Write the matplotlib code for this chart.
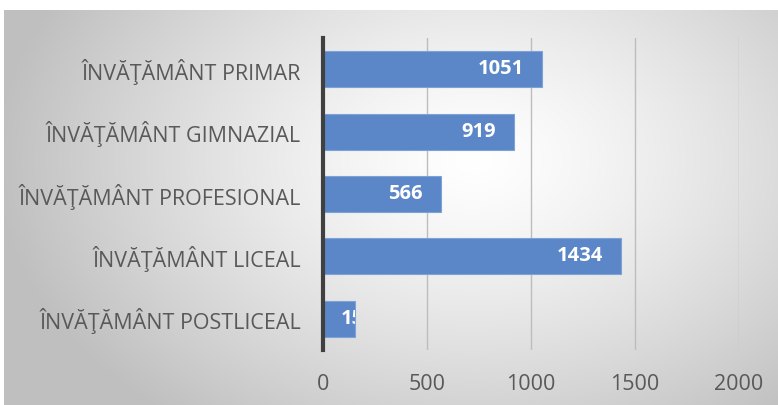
import numpy as np
import matplotlib
matplotlib.use("Agg")
import matplotlib.pyplot as plt

categories = ["ÎNVĂŢĂMÂNT PRIMAR", "ÎNVĂŢĂMÂNT GIMNAZIAL", "ÎNVĂŢĂMÂNT PROFESIONAL",
              "ÎNVĂŢĂMÂNT LICEAL", "ÎNVĂŢĂMÂNT POSTLICEAL"]
values = [1051, 919, 566, 1434, 154]
xticks = [0, 500, 1000, 1500, 2000]

plt.rcParams['font.family'] = ['Open Sans', 'DejaVu Sans']

fig = plt.figure(figsize=(7.78, 4.05), dpi=100)

# radial gradient background
bg = fig.add_axes([4/778, 0, 774/778, 395/405], zorder=-10)
h, w = 395, 774
yy, xx = np.mgrid[0:h, 0:w]
cx, cy = 470, 150
r = np.sqrt(((xx - cx) / 480.0) ** 2 + ((yy - cy) / 330.0) ** 2)
r = np.clip(r, 0, 1)
shade = 1.0 - 0.25 * r ** 1.3
bg.imshow(np.dstack([shade, shade, shade]), aspect='auto', extent=(0, w, h, 0))
bg.axis('off')

ax = fig.add_axes([323/778, 1 - 350/405, 416/778, 312/405])
ax.patch.set_alpha(0)
pos = np.arange(len(categories))
bars = ax.barh(pos, values, height=0.58, color='#5b86c8', edgecolor='#7fa2d6', linewidth=0.8, zorder=3)
ax.set_ylim(len(categories) - 0.5, -0.5)
ax.set_xlim(0, 2000)
ax.set_xticks(xticks)
ax.set_yticks(pos)
ax.set_yticklabels(categories)
ax.grid(axis='x', color='#bdbdbd', linewidth=1, zorder=0)
for s in ['top', 'right', 'bottom']:
    ax.spines[s].set_visible(False)
ax.spines['left'].set_color('#404040')
ax.spines['left'].set_linewidth(3)
ax.spines['left'].set_zorder(4)
ax.tick_params(axis='both', length=0, colors='#595959', labelsize=15.5)
ax.tick_params(axis='x', pad=17)
ax.tick_params(axis='y', pad=16)

for b, v in zip(bars, values):
    yc = b.get_y() + b.get_height() / 2
    if v > 300:
        t = ax.annotate(str(v), (v, yc), xytext=(-13, 0), textcoords='offset points',
                        ha='right', va='center', color='white', fontsize=14.5, fontweight='bold', zorder=5)
    else:
        t = ax.annotate(str(v), (0, yc), xytext=(13, 0), textcoords='offset points',
                        ha='left', va='center', color='white', fontsize=14.5, fontweight='bold', zorder=5)
        t.set_clip_path(b)

fig.savefig("out.png", dpi=100)
